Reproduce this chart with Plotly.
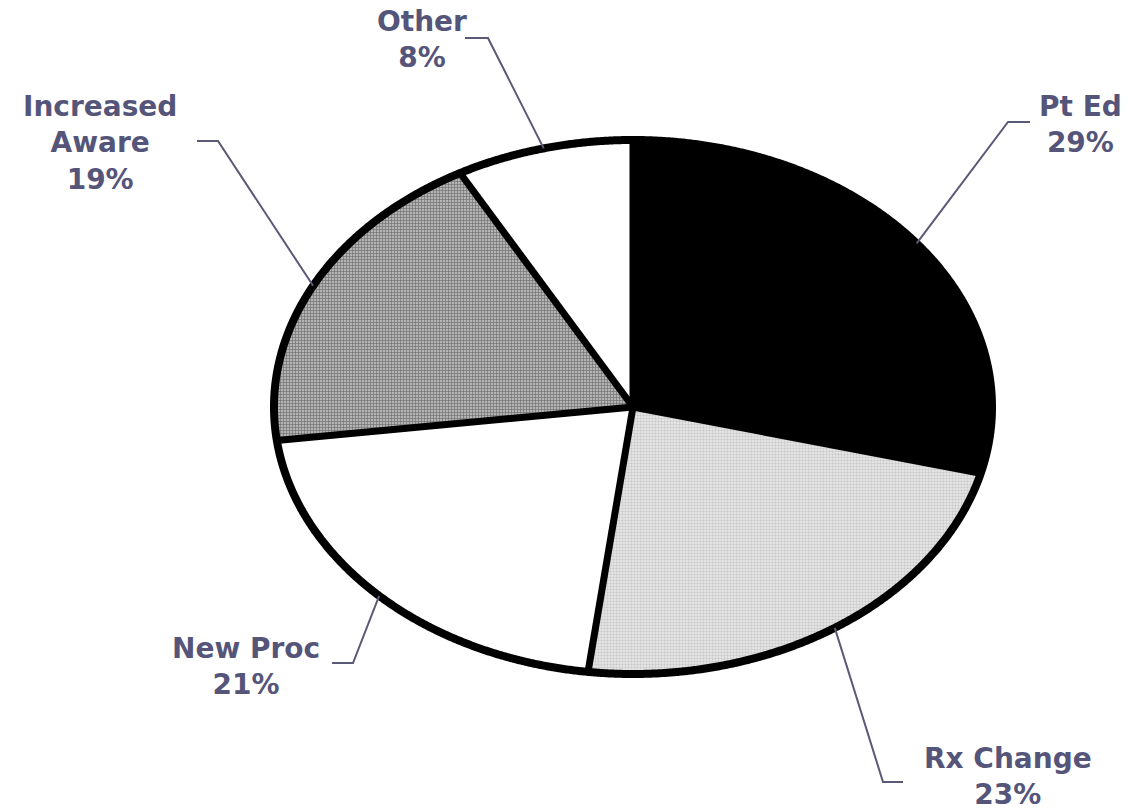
import numpy as np
import plotly.graph_objects as go

# ---- data ----
categories = ["Pt Ed", "Rx Change", "New Proc", "Increased Aware", "Other"]
label_lines = [["Pt Ed", "29%"], ["Rx Change", "23%"], ["New Proc", "21%"],
               ["Increased", "Aware", "19%"], ["Other", "8%"]]
values = [29, 23, 21, 19, 8]

# ---- styles / layout ----
W, H = 1131, 810
CX, CY = 633, 407        # pie centre (px)
RX, RY = 359, 267        # ellipse radii (px)
TEXT_COLOR = "#55557a"
LINE_COLOR = "#5a5a78"
FONT = "DejaVu Sans"
FSIZE = 28

fills = [
    dict(fillcolor="black", pattern=None),
    dict(fillcolor="#e0e0e0", pattern=dict(shape=".", fgcolor="#a8a8a8", bgcolor="#ececec", size=3, solidity=0.5)),
    dict(fillcolor="white", pattern=None),
    dict(fillcolor="#8a8a8a", pattern=dict(shape="+", fgcolor="#2e2e2e", bgcolor="#b4b4b4", size=3, solidity=0.4)),
    dict(fillcolor="white", pattern=None),
]

# label placement (px): block centre, elbow point, end of horizontal tick
label_pos = [
    dict(x=1080, y=124, elbow=(1008, 122), tick=(1030, 122)),
    dict(x=1008, y=776, elbow=(883, 782), tick=(903, 782)),
    dict(x=246, y=666, elbow=(353, 663), tick=(332, 663)),
    dict(x=100, y=143, elbow=(218, 141), tick=(197, 141)),
    dict(x=422, y=39, elbow=(488, 38), tick=(465, 38)),
]


def px2data(px, py):
    return (px - CX) / RX, (CY - py) / RY


total = sum(values)
fracs = np.cumsum([0] + values) / total
angles = fracs * 2 * np.pi  # clockwise from top

fig = go.Figure()

for i, cat in enumerate(categories):
    t = np.linspace(angles[i], angles[i + 1], 400)
    xs = np.concatenate([[0], np.sin(t), [0]])
    ys = np.concatenate([[0], np.cos(t), [0]])
    kw = dict(x=xs, y=ys, mode="lines", fill="toself",
              line=dict(width=0, color="black", simplify=False),
              fillcolor=fills[i]["fillcolor"], hoverinfo="text", text=cat, showlegend=False)
    if fills[i]["pattern"]:
        kw["fillpattern"] = fills[i]["pattern"]
    fig.add_trace(go.Scatter(**kw))

# outline: ellipse
tt = np.linspace(0, 2 * np.pi, 1440)
fig.add_trace(go.Scatter(x=np.sin(tt), y=np.cos(tt), mode="lines",
                         line=dict(color="black", width=8, simplify=False),
                         hoverinfo="skip", showlegend=False))
# radial separators
rx, ry = [], []
for a in angles[:-1]:
    rx += [0, np.sin(a), None]
    ry += [0, np.cos(a), None]
fig.add_trace(go.Scatter(x=rx, y=ry, mode="lines", line=dict(color="black", width=7),
                         hoverinfo="skip", showlegend=False))

# leader lines
mids = (angles[:-1] + angles[1:]) / 2
for i, lp in enumerate(label_pos):
    ax, ay = np.sin(mids[i]), np.cos(mids[i])
    ex, ey = px2data(*lp["elbow"])
    tx, ty = px2data(*lp["tick"])
    fig.add_trace(go.Scatter(x=[ax, ex, tx], y=[ay, ey, ty], mode="lines",
                             line=dict(color=LINE_COLOR, width=2),
                             hoverinfo="skip", showlegend=False))

annotations = []
for i, lp in enumerate(label_pos):
    annotations.append(dict(
        x=lp["x"] / W, y=1 - lp["y"] / H, xref="paper", yref="paper",
        text="<br>".join("<b>" + s + "</b>" for s in label_lines[i]),
        showarrow=False, xanchor="center", yanchor="middle", align="center",
        borderpad=0,
        font=dict(family=FONT, size=FSIZE, color=TEXT_COLOR)))

x0, _ = px2data(0, 0)
x1, _ = px2data(W, 0)
_, y1 = px2data(0, 0)
_, y0 = px2data(0, H)

fig.update_layout(
    width=W, height=H,
    margin=dict(l=0, r=0, t=0, b=0),
    paper_bgcolor="white", plot_bgcolor="white",
    xaxis=dict(range=[x0, x1], visible=False, fixedrange=True),
    yaxis=dict(range=[y0, y1], visible=False, fixedrange=True),
    annotations=annotations,
)

fig.write_html("out.html", config={"displayModeBar": False},
               post_script="document.body.style.margin='0';document.body.style.overflow='hidden';")
